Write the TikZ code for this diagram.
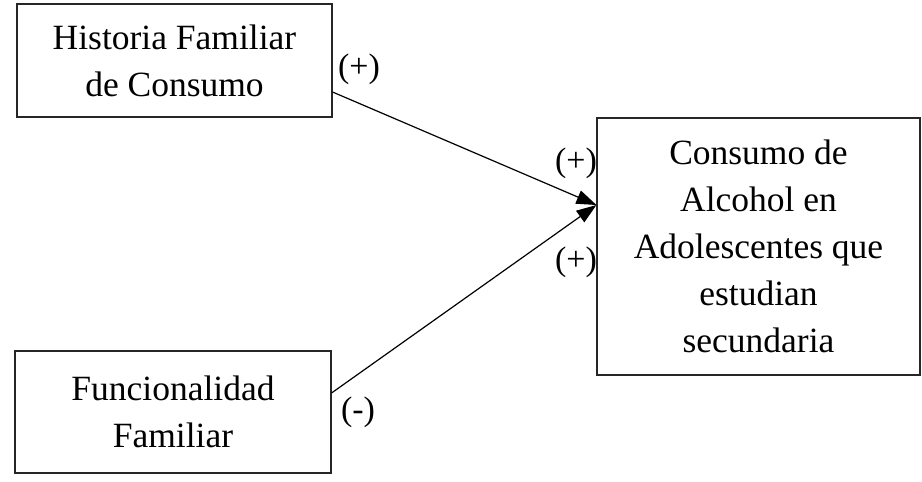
\documentclass[tikz,border=0pt]{standalone}
\usepackage{fontspec}
\setmainfont{Liberation Serif}
\usetikzlibrary{arrows.meta,calc}
\begin{document}
\begin{tikzpicture}[x=1pt,y=-1pt,
  box/.style={draw=black!85,line width=1.1pt,align=center,inner sep=0pt,
    font=\fontsize{35.5}{47}\selectfont},
  lbl/.style={font=\fontsize{34}{40}\selectfont,inner sep=0pt},
  link/.style={line width=1.2pt,-{Triangle[length=20pt,width=14pt]}}]
\useasboundingbox (0,0) rectangle (922,482);
\node[box,minimum width=315pt,minimum height=113pt] (top) at (174.5,60.5) {Historia Familiar\\de Consumo};
\node[box,minimum width=316pt,minimum height=122pt] (bot) at (173,412) {Funcionalidad\\Familiar};
\node[box,minimum width=323pt,minimum height=257pt] (out) at (758.5,246.5) {Consumo de\\Alcohol en\\Adolescentes que\\estudian\\secundaria};
\coordinate (tip) at ($(out.west)+(0,-41.5)$);
\draw[link] ($(top.east)+(0,31.5)$) -- (tip);
\draw[link] ($(bot.east)+(0,-19)$) -- (tip);
\node[lbl] (l1) at (359,69) {(+)};
\node[lbl] (l2) at (576,163) {(+)};
\node[lbl] (l3) at (576,262) {(+)};
\node[lbl] (l4) at (358,412) {(-)};
\end{tikzpicture}
\end{document}
